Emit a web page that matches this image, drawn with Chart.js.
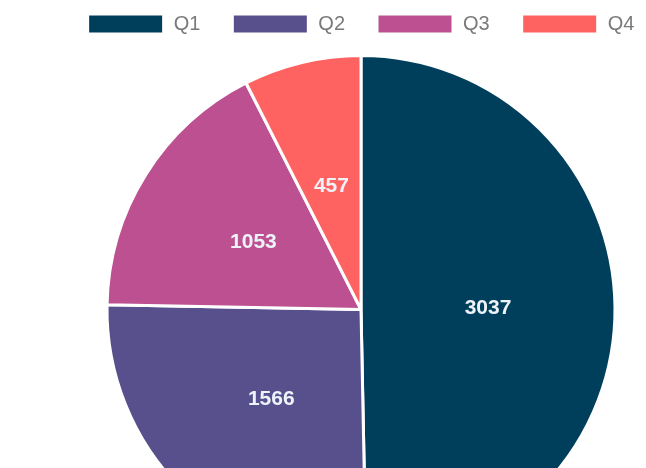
<!DOCTYPE html>
<html>
<head>
<meta charset="utf-8">
<script src="https://cdn.jsdelivr.net/npm/chart.js@4/dist/chart.umd.min.js"></script>
<style>
  html, body { margin: 0; padding: 0; background: #ffffff; overflow: hidden; }
  body { width: 646px; height: 468px; position: relative; }
  #wrap { position: absolute; left: 0; top: -18px; width: 722px; height: 600px; }
</style>
</head>
<body>
<div id="wrap"><canvas id="chart" width="722" height="600"></canvas></div>
<script>
// Quarterly totals
const quarters = ['Q1', 'Q2', 'Q3', 'Q4'];
const totals = [3037, 1566, 1053, 457];
const sliceColors = ['#003f5c', '#58508d', '#bc5090', '#ff6361'];

// Writes each slice's value at the middle of its wedge
const sliceValues = {
  id: 'sliceValues',
  afterDatasetsDraw(chart) {
    const ctx = chart.ctx;
    const meta = chart.getDatasetMeta(0);
    const values = chart.data.datasets[0].data;
    ctx.save();
    ctx.font = 'bold 21px "Liberation Sans", Arial, sans-serif';
    ctx.fillStyle = '#eef3fa';
    ctx.textAlign = 'center';
    ctx.textBaseline = 'middle';
    meta.data.forEach((arc, i) => {
      const p = arc.tooltipPosition();
      ctx.fillText(String(values[i]), p.x, p.y);
    });
    ctx.restore();
  }
};

new Chart(document.getElementById('chart'), {
  type: 'pie',
  data: {
    labels: quarters,
    datasets: [{
      data: totals,
      backgroundColor: sliceColors,
      borderColor: '#ffffff',
      borderWidth: 3,
      radius: 254
    }]
  },
  options: {
    responsive: false,
    animation: false,
    layout: { padding: { bottom: 7 } },
    plugins: {
      legend: {
        position: 'top',
        labels: {
          boxWidth: 76,
          boxHeight: 20,
          padding: 32,
          color: '#7a7a7a',
          font: { size: 20, family: '"Liberation Sans", Arial, sans-serif' }
        }
      },
      tooltip: { enabled: false }
    }
  },
  plugins: [sliceValues]
});
</script>
</body>
</html>
